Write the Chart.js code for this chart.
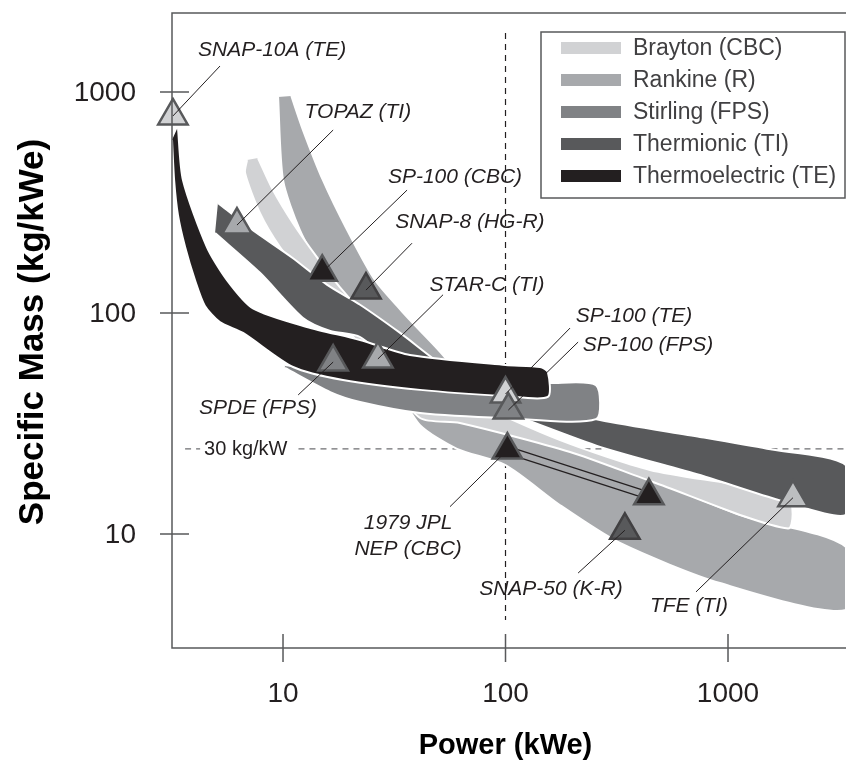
<!DOCTYPE html>
<html>
<head>
<meta charset="utf-8">
<script src="https://cdn.jsdelivr.net/npm/chart.js@4.4.0/dist/chart.umd.min.js"></script>
<style>
  html, body { margin: 0; padding: 0; background: #fff; overflow: hidden; }
  #wrap { width: 846px; height: 776px; position: relative; }
  #massChart { display: block; }
</style>
</head>
<body>
<div id="wrap"><canvas id="massChart"></canvas></div>
<script>
// axis ranges (kWe, kg/kWe) and ticks
const powerRange = [3.17, 3391];
const massRange = [3.05, 2278];
const xTicks = [10, 100, 1000];
const xTickLabels = ['10', '100', '1000'];
const yTicks = [10, 100, 1000];
const yTickLabels = ['10', '100', '1000'];

// bands: [power, specific mass] along upper and lower edges
const braytonUpper = [[7.72, 503], [9.02, 360], [11.09, 255], [14.2, 179], [18.0, 131], [24.6, 92.9], [33.6, 71.7], [45.8, 52.4], [69.2, 40.4], [176, 26.6], [446, 19.5], [1861, 14.7]];
const braytonLower = [[6.89, 492], [6.75, 430], [7.88, 283], [9.69, 199], [12.8, 141], [18.0, 92.9], [27.3, 55.2], [41.3, 33.5], [62.4, 31.8], [195, 23.5], [460, 17.2], [1861, 10.6]];

const rankineUpper = [[10.9, 960], [12.3, 673], [15.1, 400], [19.4, 238], [25.9, 141], [37.2, 92.9], [54.6, 61.3], [69.2, 40.4], [94.5, 31.1], [195, 24.0], [460, 17.6], [1132, 12.2], [3391, 8.73]];
const rankineLower = [[9.5, 949], [10, 400], [11.9, 238], [15.8, 141], [22.2, 83.8], [31.9, 47.2], [41.3, 31.1], [60.5, 24.3], [100, 20.5], [176, 13.5], [327, 9.11], [920, 6.0], [3391, 4.53]];

const stirlingUpper = [[10.2, 58.2], [22.2, 52.4], [56.3, 49.8], [155, 48.2], [255, 47.2]];
const stirlingLower = [[10.2, 56.4], [16.3, 43.9], [22.2, 39.6], [41.3, 35.3], [100, 33.5], [255, 33.1]];

const thermionicUpper = [[5.10, 315], [7.11, 242], [11.09, 177], [15.8, 134], [22.2, 109], [33.6, 81.3], [56.3, 55.2], [116, 40.4], [266, 32.8], [748, 27.5], [1497, 24.3], [3391, 20.5]];
const thermionicLower = [[4.95, 230], [7.88, 152], [12.3, 95], [16.3, 83], [22.2, 77.9], [41.3, 47.2], [100, 35.6], [266, 24.8], [748, 18.5], [1713, 14.2], [3391, 12.2]];

const thermoelectricUpper = [[3.37, 695], [3.55, 400], [4.55, 199], [5.60, 141], [7.33, 105], [12.8, 86.5], [22.2, 75.5], [37.2, 64.6], [100, 58.2], [143, 57.0], [155, 54.1]];
const thermoelectricLower = [[3.17, 607], [3.24, 400], [3.37, 278], [3.63, 199], [4.02, 141], [4.45, 108], [5.2, 91], [6.61, 81.3], [11.09, 57.0], [18.6, 49.8], [41.3, 44.9], [100, 42.1], [155, 41.7]];

const bandNames = ['Brayton (CBC)', 'Rankine (R)', 'Stirling (FPS)', 'Thermionic (TI)', 'Thermoelectric (TE)'];
const bandColors = ['#d1d2d4', '#a7a9ac', '#808285', '#58595b', '#231f20'];

// flight / design points
const markerPower = [3.2, 6.21, 15.0, 23.6, 26.7, 16.8, 100, 103, 102, 441, 344, 1959];
const markerMass = [779, 250, 153, 127, 62.0, 60, 43.0, 36.4, 24.0, 14.9, 10.4, 14.6];
const markerFill = ['#d1d2d4', '#a7a9ac', '#231f20', '#58595b', '#a7a9ac', '#808285', '#d1d2d4', '#808285', '#231f20', '#231f20', '#58595b', '#bcbec0'];
const labelText = [['SNAP-10A (TE)'], ['TOPAZ (TI)'], ['SP-100 (CBC)'], ['SNAP-8 (HG-R)'], ['STAR-C (TI)'], ['SPDE (FPS)'], ['SP-100 (TE)'], ['SP-100 (FPS)'], ['1979 JPL', 'NEP (CBC)'], [], ['SNAP-50 (K-R)'], ['TFE (TI)']];
const labelPower = [8.93, 21.7, 59.3, 69.2, 82.6, 7.72, 378, 437, 36.5, null, 160, 668];
const labelMass = [1549, 812, 412, 258, 134, 37.2, 96.9, 71.7, 9.79, null, 5.64, 4.72];
const leaderPower = [5.21, 16.8, 36.1, 38.0, 52.4, 11.7, 195, 212, 56.3, null, 212, 718];
const leaderMass = [1311, 673, 360, 207, 121, 42.6, 85.5, 73.9, 13.3, null, 6.66, 5.47];
const pathFrom = 8, pathTo = 9;   // 1979 JPL NEP -> later design

// reference lines
const refPower = 100;
const refPowerSpan = [1849, 4.08];
const refMass = 24.3;
const refMassStart = 3.63;
const refLabel = '30 kg/kW';
const refLabelPower = 4.42;

const FONT = "'Liberation Sans', Arial, Helvetica, sans-serif";
const INK = '#231f20';
const AXIS = '#58595b';
Chart.defaults.font.family = FONT;

function bandShape(upper, lower) {
    const pts = upper.concat(lower.slice().reverse());
    return pts.map(p => ({ x: p[0], y: p[1] }));
}

const bandEdges = [
    [braytonUpper, braytonLower],
    [rankineUpper, rankineLower],
    [stirlingUpper, stirlingLower],
    [thermionicUpper, thermionicLower],
    [thermoelectricUpper, thermoelectricLower]
];
// stacking: rankine at the back, thermoelectric on top
const bandOrder = [4, 5, 2, 3, 1];

const datasets = bandEdges.map((e, i) => ({
    label: bandNames[i],
    data: bandShape(e[0], e[1]),
    showLine: true,
    fill: 'shape',
    backgroundColor: bandColors[i],
    borderColor: '#ffffff',
    borderWidth: 2,
    pointRadius: 0,
    tension: 0.25,
    order: bandOrder[i]
}));

const markerIndex = datasets.length;
datasets.push({
    label: 'points',
    data: markerPower.map((p, i) => ({ x: p, y: markerMass[i] })),
    pointStyle: 'triangle',
    pointRadius: 17,
    borderWidth: 2.5,
    backgroundColor: markerFill,
    borderColor: markerFill.map(c => (c === '#58595b' ? '#414042' : '#58595b')),
    clip: false,
    order: 0
});

const overlay = {
    id: 'overlay',
    beforeDatasetsDraw(chart) {
        const { ctx, chartArea: a, scales: { x, y } } = chart;
        ctx.save();
        ctx.lineWidth = 1.2;
        ctx.setLineDash([6, 5]);
        ctx.strokeStyle = INK;
        const vx = x.getPixelForValue(refPower);
        ctx.beginPath();
        ctx.moveTo(vx, y.getPixelForValue(refPowerSpan[0]));
        ctx.lineTo(vx, y.getPixelForValue(refPowerSpan[1]));
        ctx.stroke();

        ctx.strokeStyle = '#6d6e71';
        ctx.font = `20px ${FONT}`;
        const hy = y.getPixelForValue(refMass);
        const lx = x.getPixelForValue(refLabelPower);
        const w = ctx.measureText(refLabel).width;
        ctx.beginPath();
        ctx.moveTo(x.getPixelForValue(refMassStart), hy);
        ctx.lineTo(lx - 4, hy);
        ctx.moveTo(lx + w + 11, hy);
        ctx.lineTo(a.right, hy);
        ctx.stroke();
        ctx.restore();
    },
    beforeDatasetDraw(chart, args) {
        if (args.index !== markerIndex) return;
        const { ctx, scales: { x, y } } = chart;
        const x1 = x.getPixelForValue(markerPower[pathFrom]), y1 = y.getPixelForValue(markerMass[pathFrom]);
        const x2 = x.getPixelForValue(markerPower[pathTo]), y2 = y.getPixelForValue(markerMass[pathTo]);
        const len = Math.hypot(x2 - x1, y2 - y1);
        const nx = -(y2 - y1) / len * 3.5, ny = (x2 - x1) / len * 3.5;
        ctx.save();
        ctx.strokeStyle = INK;
        ctx.lineWidth = 1.2;
        [-1, 1].forEach(s => {
            ctx.beginPath();
            ctx.moveTo(x1 + s * nx, y1 + s * ny);
            ctx.lineTo(x2 + s * nx, y2 + s * ny);
            ctx.stroke();
        });
        ctx.restore();
    },
    afterDatasetsDraw(chart) {
        const { ctx, scales: { x, y } } = chart;
        ctx.save();
        // leader lines
        ctx.strokeStyle = INK;
        ctx.lineWidth = 1;
        markerPower.forEach((p, i) => {
            if (leaderPower[i] == null) return;
            ctx.beginPath();
            ctx.moveTo(x.getPixelForValue(leaderPower[i]), y.getPixelForValue(leaderMass[i]));
            ctx.lineTo(x.getPixelForValue(p), y.getPixelForValue(markerMass[i]));
            ctx.stroke();
        });
        // point labels
        ctx.fillStyle = INK;
        ctx.font = `italic 21px ${FONT}`;
        ctx.textAlign = 'center';
        ctx.textBaseline = 'middle';
        labelText.forEach((lines, i) => {
            if (!lines.length) return;
            const cx = x.getPixelForValue(labelPower[i]);
            const cy = y.getPixelForValue(labelMass[i]);
            lines.forEach((t, k) => {
                ctx.fillText(t, cx, cy + (k - (lines.length - 1) / 2) * 26);
            });
        });
        // reference label
        ctx.font = `20px ${FONT}`;
        ctx.textAlign = 'left';
        ctx.fillText(refLabel, x.getPixelForValue(refLabelPower), y.getPixelForValue(refMass) + 1);
        ctx.restore();
    },
    afterDraw(chart) {
        const { ctx, chartArea: a, scales: { x, y } } = chart;
        ctx.save();
        ctx.strokeStyle = AXIS;
        ctx.lineWidth = 1.5;
        ctx.beginPath();
        ctx.moveTo(a.right, a.top);
        ctx.lineTo(a.left, a.top);
        ctx.lineTo(a.left, a.bottom);
        ctx.lineTo(a.right, a.bottom);
        xTicks.forEach(v => {
            const px = x.getPixelForValue(v);
            ctx.moveTo(px, a.bottom - 14);
            ctx.lineTo(px, a.bottom + 14);
        });
        yTicks.forEach(v => {
            const py = y.getPixelForValue(v);
            ctx.moveTo(a.left - 12, py);
            ctx.lineTo(a.left + 17, py);
        });
        ctx.stroke();

        // tick labels
        ctx.fillStyle = INK;
        ctx.font = `28px ${FONT}`;
        ctx.textBaseline = 'middle';
        ctx.textAlign = 'center';
        xTicks.forEach((v, i) => ctx.fillText(xTickLabels[i], x.getPixelForValue(v), a.bottom + 46));
        ctx.textAlign = 'right';
        yTicks.forEach((v, i) => ctx.fillText(yTickLabels[i], a.left - 36, y.getPixelForValue(v) + 1));

        // axis titles
        ctx.fillStyle = '#000';
        ctx.font = `bold 29px ${FONT}`;
        ctx.textAlign = 'center';
        ctx.fillText('Power (kWe)', x.getPixelForValue(100), 746);
        ctx.save();
        ctx.translate(33, 332);
        ctx.rotate(-Math.PI / 2);
        ctx.font = `bold 35px ${FONT}`;
        ctx.fillText('Specific Mass (kg/kWe)', 0, 0);
        ctx.restore();

        // legend
        const lx = 541, ly = 32, lw = 304, lh = 166;
        ctx.strokeStyle = AXIS;
        ctx.lineWidth = 1.5;
        ctx.fillStyle = '#ffffff';
        ctx.fillRect(lx, ly, lw, lh);
        ctx.strokeRect(lx, ly, lw, lh);
        ctx.font = `23px ${FONT}`;
        ctx.textAlign = 'left';
        ctx.textBaseline = 'middle';
        bandNames.forEach((name, i) => {
            const ry = ly + 16 + i * 32;
            ctx.fillStyle = bandColors[i];
            ctx.fillRect(lx + 20, ry - 6, 60, 12);
            ctx.fillStyle = '#414042';
            ctx.fillText(name, lx + 92, ry + 1);
        });
        ctx.restore();
    }
};

new Chart(document.getElementById('massChart'), {
    type: 'scatter',
    data: { datasets },
    options: {
        responsive: true,
        maintainAspectRatio: false,
        animation: false,
        devicePixelRatio: 1,
        layout: { autoPadding: false, padding: { top: 13, right: 0, bottom: 128, left: 172 } },
        plugins: {
            legend: { display: false },
            tooltip: { enabled: false }
        },
        scales: {
            x: { type: 'logarithmic', min: powerRange[0], max: powerRange[1], display: false },
            y: { type: 'logarithmic', min: massRange[0], max: massRange[1], display: false }
        }
    },
    plugins: [overlay]
});
</script>
</body>
</html>
